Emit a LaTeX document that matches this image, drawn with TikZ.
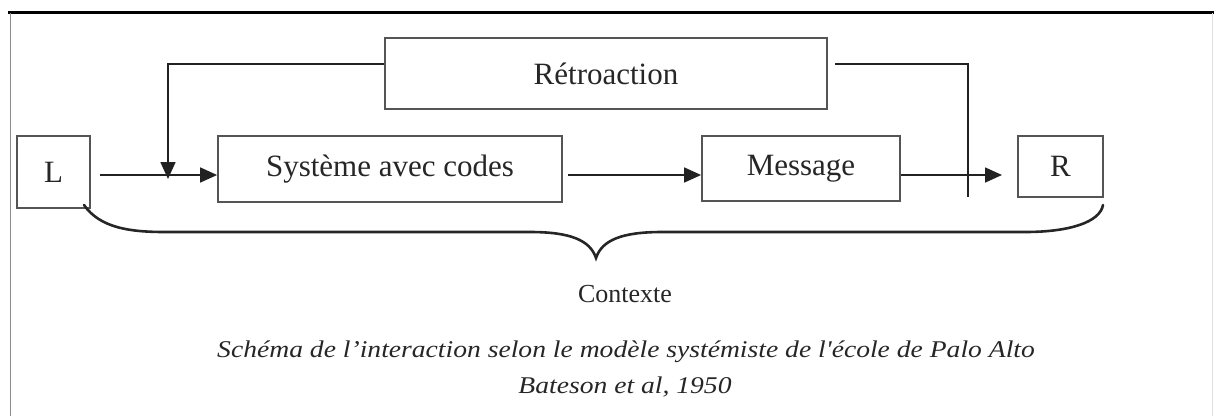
\documentclass[tikz,border=0pt]{standalone}
\usepackage{fontspec}
\setmainfont{Liberation Serif}
\newfontfamily\capfont{Liberation Serif}[FakeStretch=1.15, Ligatures=TeXOff]
\usetikzlibrary{arrows.meta}
\definecolor{boxgray}{HTML}{555555}
\definecolor{linedark}{HTML}{222222}
\tikzset{
  x=1pt, y=-1pt,
  box/.style={draw=boxgray, line width=1.8pt, inner sep=0pt, font=\fontsize{31}{36}\selectfont, text=black!85},
  conn/.style={draw=linedark, line width=1.6pt},
  arr/.style={conn, -{Triangle[length=17pt,width=15pt]}},
  bracestyle/.style={draw=black!85, line width=2.6pt},
  captext/.style={anchor=base, font=\capfont\fontsize{24}{28}\selectfont\itshape, text=black!85},
}
\begin{document}
\begin{tikzpicture}
\useasboundingbox (0,0) rectangle (1214,416);
% frame
\draw[line width=2.4pt, black] (8,12.5) -- (1214,12.5);
\draw[line width=1pt, black!45] (10,13) -- (10,416);
\draw[line width=0.8pt, black!12] (1212,13) -- (1212,416);

% nodes
\node[box, minimum width=73pt, minimum height=72pt] (L) at (53.5,172) {L};
\node[box, minimum width=344pt, minimum height=66pt] (S) at (390,169) {Système avec codes};
\node[box, minimum width=442pt, minimum height=71pt] (F) at (606,73.5) {Rétroaction};
\node[box, minimum width=198pt, minimum height=65pt] (M) at (801,168.5) {Message};
\node[box, minimum width=85pt, minimum height=61pt] (R) at (1060.5,166.5) {R};

% coordinates
\coordinate (a1) at (100,175);
\coordinate (a2) at (568,175);
\coordinate (fbl) at (168,64);
\coordinate (fbd) at (168,179);
\coordinate (fbr) at (835,64);
\coordinate (fbc) at (968,64);
\coordinate (fbe) at (968,197);
\coordinate (rend) at (1002,175);

% connectors
\draw[arr] (a1) -- (a1 -| S.west);
\draw[arr] (F.west |- fbl) -- (fbl) -- (fbd);
\draw[arr] (a2) -- (a2 -| M.west);
\draw[conn] (fbr) -- (fbc) -- (fbe);
\draw[arr] (M.east |- rend) -- (rend);

% brace
\coordinate (bl) at (84,205);
\coordinate (br) at (1103,205);
\coordinate (tip) at (596,258);
\draw[bracestyle, line cap=round]
  (bl) .. controls (100,228) and (130,232) .. (165,232)
  -- (530,232) .. controls (570,232) and (590,240) .. (tip)
  .. controls (602,240) and (622,232) .. (662,232)
  -- (1025,232) .. controls (1070,232) and (1100,222) .. (br);

% labels
\node[anchor=base, font=\fontsize{26}{30}\selectfont, text=black!85] (ctx) at (625,302) {Contexte};
\node[captext] (cap1) at (626,357) {Schéma de l’interaction selon le modèle systémiste de l'école de Palo Alto};
\node[captext] (cap2) at (625,393) {Bateson et al, 1950};
\end{tikzpicture}
\end{document}
